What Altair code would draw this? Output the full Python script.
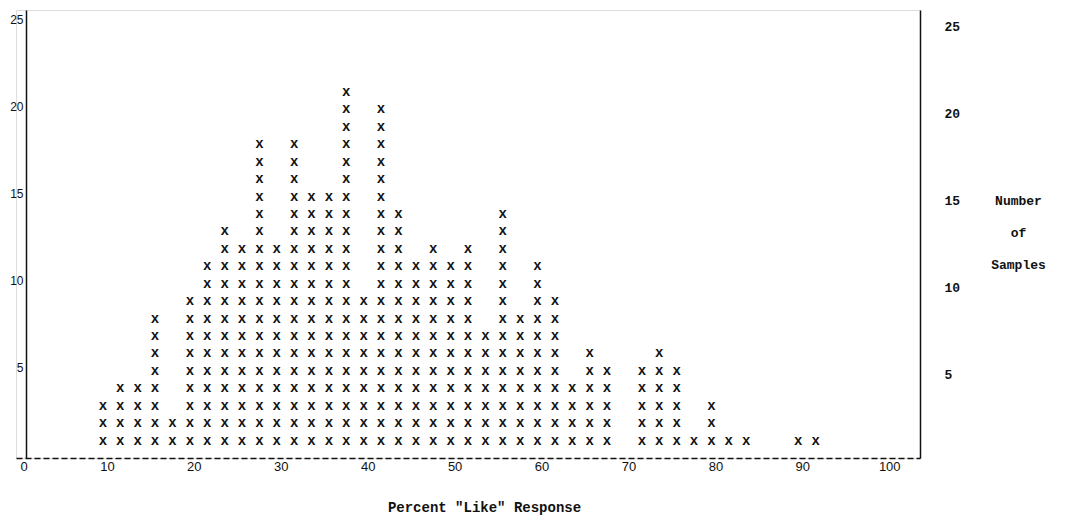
import altair as alt
import pandas as pd

# Percent "Like" response (column positions) and number of samples in each column
percent = [10, 12, 14, 16, 18, 20, 22, 24, 26, 28, 30, 32, 34, 36, 38, 40, 42, 44, 46, 48,
           50, 52, 54, 56, 58, 60, 62, 64, 66, 68, 72, 74, 76, 78, 80, 82, 84, 90, 92]
counts = [3, 4, 4, 8, 2, 9, 11, 13, 12, 18, 12, 18, 15, 15, 21, 9, 20, 14, 11, 12,
          11, 12, 7, 14, 8, 11, 9, 4, 6, 5, 5, 6, 5, 1, 3, 1, 1, 1, 1]

x_ticks = [0, 10, 20, 30, 40, 50, 60, 70, 80, 90, 100]
y_ticks = [5, 10, 15, 20, 25]

rows = []
for p, c in zip(percent, counts):
    for k in range(1, c + 1):
        rows.append({"percent": p, "n": k})
df = pd.DataFrame(rows)

MONO = "Liberation Mono"
SANS = "Liberation Sans"
INK = "#111111"

xscale = alt.Scale(domain=[0, 104], nice=False, zero=False)
yscale = alt.Scale(domain=[0, 25.7], nice=False)

marks = alt.Chart(df).mark_text(
    text="x", font=MONO, fontWeight="bold", fontSize=14, color=INK, baseline="middle"
).encode(
    x=alt.X("percent:Q", scale=xscale,
            axis=alt.Axis(values=x_ticks, title='Percent "Like" Response', ticks=False,
                          grid=False, domainColor=INK, domainDash=[6, 3], domainWidth=1.5,
                          labelFont=SANS, labelFontSize=13, labelColor=INK, labelPadding=2,
                          labelOffset=4,
                          titleFont=MONO, titleFontWeight="bold", titleFontSize=14,
                          titleColor=INK, titlePadding=27, titleX=468, titleAlign="center")),
    y=alt.Y("n:Q", scale=yscale, axis=None),
)

left = alt.Chart(df).mark_point(opacity=0).encode(
    y=alt.Y("n:Q", scale=yscale,
            axis=alt.Axis(orient="left", values=y_ticks, title=None, ticks=False, grid=False,
                          offset=-10,
                          domainColor=INK, domainWidth=1.5,
                          labelFont=SANS, labelFontSize=12, labelColor=INK,
                          labelPadding=3, labelOffset=-3)),
)

right = alt.Chart(df).mark_point(opacity=0).encode(
    y=alt.Y("n:Q", scale=yscale,
            axis=alt.Axis(orient="right", values=y_ticks, ticks=False, grid=False,
                          domainColor=INK, domainWidth=1.5,
                          labelFont=MONO, labelFontWeight="bold", labelFontSize=13,
                          labelColor=INK, labelPadding=24, labelOffset=4,
                          title=["Number", "of", "Samples"], titleAngle=0,
                          titleAlign="center", titleBaseline="top",
                          titleX=98, titleY=184, titleLineHeight=32,
                          titleFont=MONO, titleFontWeight="bold", titleFontSize=13,
                          titleColor=INK)),
)

chart = alt.layer(marks, left, right).resolve_axis(y="independent").properties(
    width=904, height=448,
    autosize=alt.AutoSizeParams(type="none"),
    padding={"left": 8, "top": 2, "right": 137, "bottom": 59},
).configure_view(strokeWidth=0, stroke="transparent").configure_axis(
    grid=False, tickOpacity=0
).configure(background="white")

chart.save("out.html", embed_options={"renderer": "svg", "actions": False})
